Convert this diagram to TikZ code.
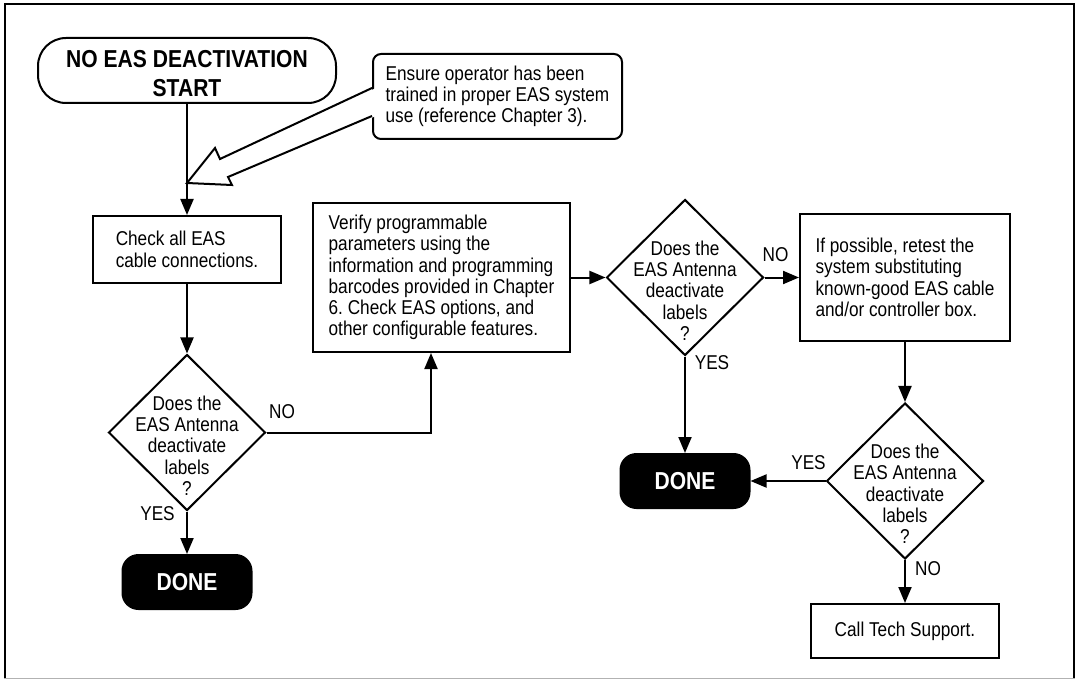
\documentclass[tikz,border=0pt]{standalone}
\usepackage{fontspec}
\setmainfont[FakeStretch=0.86]{Liberation Sans}
\usetikzlibrary{shapes.geometric,arrows.meta,calc}
\begin{document}
\begin{tikzpicture}[x=1pt,y=-1pt,
  every node/.style={font=\fontsize{20}{21.3}\selectfont\frenchspacing},
  box/.style={draw, line width=2pt, rectangle, align=left, inner sep=0pt},
  dia/.style={draw, line width=2pt, diamond, minimum width=157pt, minimum height=156pt, inner sep=0pt},
  dtext/.style={yshift=-13pt, align=center, inner sep=0pt},
  bigtext/.style={font=\fontsize{24.5}{28.5}\selectfont\bfseries},
  term/.style={draw, line width=2pt, rounded corners=28pt, inner sep=0pt},
  done/.style={fill=black, draw=black, line width=2pt, rounded corners=16pt, minimum width=129pt, minimum height=54pt, inner sep=0pt, text=white, bigtext},
  conn/.style={line width=2pt, -{Triangle[length=16pt,width=13pt]}},
  lbl/.style={inner sep=0pt}
]
\useasboundingbox (0,0) rectangle (1076,679);

% outer frame
\draw[line width=2.5pt] (5,678) -- (5,4) -- (1074,4) -- (1074,678);
\draw[line width=1pt, gray!60] (4,678) -- (1075,678);

% nodes
\node[term, minimum width=298pt, minimum height=65pt,
      label={[bigtext, align=center, inner sep=0pt, yshift=-3pt]center:{NO EAS DEACTIVATION\\START}}] (start) at (187,70.5) {};
\node[box, minimum width=249pt, minimum height=85pt, rounded corners=8pt] (note) at (497.5,96.5)
  {Ensure operator has been\\trained in proper EAS system\\use (reference Chapter 3).};
\node[box, minimum width=188pt, minimum height=67pt] (check) at (187,249.5)
  {Check all EAS\\cable connections.};
\node[dia, label={[dtext]center:{Does the\\EAS Antenna\\deactivate\\labels\\?}}] (d1) at (187,432.5) {};
\node[done] (done1) at (187,582) {DONE};
\node[box, minimum width=257pt, minimum height=149pt] (verify) at (441.5,277.5)
  {Verify programmable\\parameters using the\\information and programming\\barcodes provided in Chapter\\6. Check EAS options, and\\other configurable features.};
\node[dia, label={[dtext]center:{Does the\\EAS Antenna\\deactivate\\labels\\?}}] (d2) at (685,277.5) {};
\node[box, minimum width=210pt, minimum height=127pt] (retest) at (905,277.5)
  {If possible, retest the\\system substituting\\known-good EAS cable\\and/or controller box.};
\node[done] (done2) at (685,481) {DONE};
\node[dia, label={[dtext]center:{Does the\\EAS Antenna\\deactivate\\labels\\?}}] (d3) at (905,481) {};
\node[box, minimum width=188pt, minimum height=54pt] (call) at (905,631) {Call Tech Support.};

% branch labels
\node[lbl] (yes1) at (157.5,514) {YES};
\node[lbl] (no1) at (282,412) {NO};
\node[lbl] (yes2) at (712,363) {YES};
\node[lbl] (no2) at (775.5,254.5) {NO};
\node[lbl] (yes3) at (808.5,463) {YES};
\node[lbl] (no3) at (928,569) {NO};

% hollow callout arrow
\coordinate (tip) at (187,183);
\fill[white] (376,88) -- (220,159) -- (215,148) -- (tip) -- (232,185) -- (228,177) -- (376,116) -- cycle;
\draw[line width=2pt, line join=miter] (note.west |- 0,88) -- (220,159) -- (215,148) -- (tip) -- (232,185) -- (228,177) -- (note.west |- 0,116);

% connectors
\coordinate (vc) at (431,432.5);
\draw[conn] (start) -- (check);
\draw[conn] (check) -- (d1);
\draw[conn] (d1) -- (done1);
\draw[conn] (d1.east) -- (vc) -- (vc |- verify.south);
\draw[conn] (verify) -- (d2);
\draw[conn] (d2) -- (retest);
\draw[conn] (d2) -- (done2);
\draw[conn] (retest) -- (d3);
\draw[conn] (d3) -- (done2);
\draw[conn] (d3) -- (call);
\end{tikzpicture}
\end{document}
